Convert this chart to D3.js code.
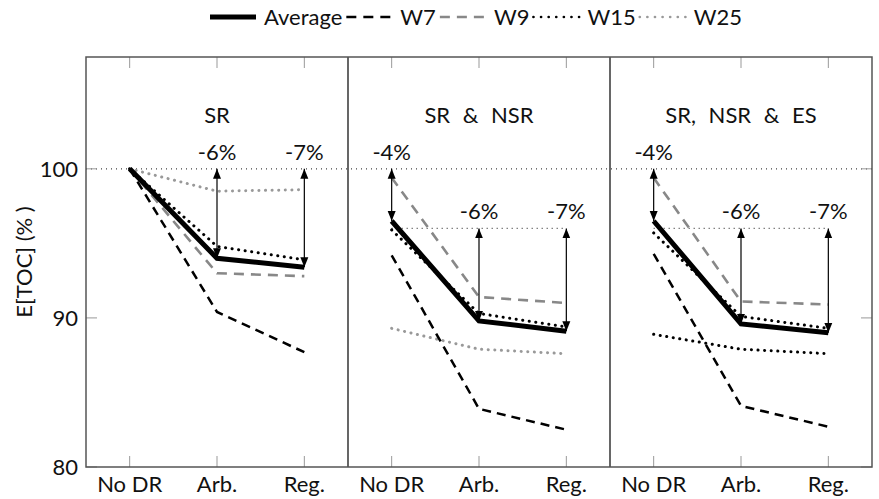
<!DOCTYPE html>
<html>
<head>
<meta charset="utf-8">
<script src="https://cdn.jsdelivr.net/npm/d3@7"></script>
<style>
  body { margin: 0; background: #fff; }
  svg text { font-family: Lato, "DejaVu Sans", sans-serif; fill: #111; }
</style>
</head>
<body>
<svg id="chart"></svg>
<script>
// categories and panels
const categories = ['No DR', 'Arb.', 'Reg.'];
const panelTitles = ['SR', 'SR & NSR', 'SR, NSR & ES'];
const seriesNames = ['Average', 'W7', 'W9', 'W15', 'W25'];

// E[TOC] (%) per panel, in category order
const average = [[100, 94.0, 93.4], [96.5, 89.8, 89.1], [96.5, 89.6, 89.0]];
const w7 = [[100, 90.4, 87.7], [94.2, 83.9, 82.5], [94.3, 84.1, 82.7]];
const w9 = [[100, 93.0, 92.8], [99.4, 91.4, 91.0], [99.4, 91.1, 90.9]];
const w15 = [[100, 94.8, 93.9], [95.9, 90.3, 89.4], [95.7, 90.1, 89.3]];
const w25 = [[100, 98.5, 98.6], [89.3, 87.9, 87.6], [88.9, 87.9, 87.6]];

// drop annotations: label and the level the arrow starts from
const dropLabels = [[null, '-6%', '-7%'], ['-4%', '-6%', '-7%'], ['-4%', '-6%', '-7%']];
const dropFrom = [[null, 100, 100], [100, 96, 96], [100, 96, 96]];

const yTicks = [80, 90, 100];
const yDomain = [80, 107.5];

const width = 879;
const height = 499;
const marginLeft = 86;
const marginRight = 7;
const marginTop = 57;
const marginBottom = 32;
const tickLen = 11;
const fontSize = 22;

const styles = {
  Average: { color: '#000', width: 5, dash: null, dot: false },
  W7: { color: '#000', width: 2.5, dash: '9,6', dot: false },
  W9: { color: '#888', width: 2.6, dash: '10,7', dot: false },
  W15: { color: '#000', width: 3, dash: '0.1,6.5', dot: true },
  W25: { color: '#999', width: 3, dash: '0.1,6.5', dot: true }
};

const seriesData = { Average: average, W7: w7, W9: w9, W15: w15, W25: w25 };

const $svg = d3.select('#chart').attr('width', width).attr('height', height);

const plotW = width - marginLeft - marginRight;
const plotH = height - marginTop - marginBottom;
const panelW = plotW / panelTitles.length;

const scaleY = d3.scaleLinear().domain(yDomain).range([marginTop + plotH, marginTop]);
const scalePanel = d3.scaleBand().domain(d3.range(panelTitles.length)).range([marginLeft, marginLeft + plotW]);
const scaleX = d3.scaleBand().domain(categories).range([0, panelW]);
const cx = c => scaleX(c) + scaleX.bandwidth() / 2;

const defs = $svg.append('defs');
['start', 'end'].forEach(k => {
  defs.append('marker')
    .attr('id', 'arrow-' + k)
    .attr('viewBox', '0 0 10 10')
    .attr('refX', 10).attr('refY', 5)
    .attr('markerWidth', 10).attr('markerHeight', 10)
    .attr('markerUnits', 'userSpaceOnUse')
    .attr('orient', k === 'start' ? 'auto-start-reverse' : 'auto')
    .append('path')
    .attr('d', 'M0,1 L10,5 L0,9 Z')
    .attr('fill', '#000');
});

// reference line at 100, whole width
$svg.append('line')
  .attr('x1', marginLeft).attr('x2', marginLeft + plotW)
  .attr('y1', scaleY(100)).attr('y2', scaleY(100))
  .attr('stroke', '#444').attr('stroke-width', 1.2)
  .attr('stroke-dasharray', '1,4');

const line = d3.line()
  .x((d, i) => cx(categories[i]))
  .y(d => scaleY(d));

panelTitles.forEach((title, p) => {
  const $g = $svg.append('g').attr('transform', `translate(${scalePanel(p)},0)`);

  // secondary reference lines
  const levels = Array.from(new Set(dropFrom[p].filter(v => v !== null && v !== 100)));
  levels.forEach(v => {
    $g.append('line')
      .attr('x1', cx(categories[0])).attr('x2', cx(categories[2]))
      .attr('y1', scaleY(v)).attr('y2', scaleY(v))
      .attr('stroke', '#444').attr('stroke-width', 1.2)
      .attr('stroke-dasharray', '1,4');
  });

  // series, drawn light to heavy
  ['W25', 'W15', 'W9', 'W7', 'Average'].forEach(name => {
    const s = styles[name];
    // in the third panel the W25 curve is printed black in the original
    const color = (name === 'W25' && p === 2) ? '#000' : s.color;
    $g.append('path')
      .datum(seriesData[name][p])
      .attr('d', line)
      .attr('fill', 'none')
      .attr('stroke', color)
      .attr('stroke-width', s.width)
      .attr('stroke-linecap', s.dot ? 'round' : 'butt')
      .attr('stroke-linejoin', 'miter')
      .attr('stroke-dasharray', s.dash);
  });

  // drop arrows and labels
  categories.forEach((c, i) => {
    const lab = dropLabels[p][i];
    if (!lab) return;
    const from = dropFrom[p][i];
    const to = average[p][i];
    $g.append('line')
      .attr('x1', cx(c)).attr('x2', cx(c))
      .attr('y1', scaleY(from)).attr('y2', scaleY(to))
      .attr('stroke', '#000').attr('stroke-width', 1.2)
      .attr('marker-start', 'url(#arrow-start)')
      .attr('marker-end', 'url(#arrow-end)');
    $g.append('text')
      .attr('x', cx(c)).attr('y', scaleY(from) - 9)
      .attr('text-anchor', 'middle')
      .style('font-size', fontSize)
      .text(lab);
  });

  // panel title
  $g.append('text')
    .attr('x', panelW / 2).attr('y', scaleY(103.1))
    .attr('text-anchor', 'middle')
    .style('font-size', fontSize)
    .style('word-spacing', '7px')
    .text(title);

  // x ticks at top and bottom
  categories.forEach(c => {
    $g.append('line')
      .attr('x1', cx(c)).attr('x2', cx(c))
      .attr('y1', marginTop + plotH).attr('y2', marginTop + plotH - tickLen)
      .attr('stroke', '#999').attr('stroke-width', 1);
    $g.append('line')
      .attr('x1', cx(c)).attr('x2', cx(c))
      .attr('y1', marginTop).attr('y2', marginTop + tickLen)
      .attr('stroke', '#999').attr('stroke-width', 1);
    $g.append('text')
      .attr('x', cx(c)).attr('y', marginTop + plotH + 25)
      .attr('text-anchor', 'middle')
      .style('font-size', fontSize)
      .text(c);
  });

  // panel divider
  if (p > 0) {
    $g.append('line')
      .attr('x1', 0).attr('x2', 0)
      .attr('y1', marginTop).attr('y2', marginTop + plotH)
      .attr('stroke', '#000').attr('stroke-width', 1.2);
  }
});

// y ticks, left and right
yTicks.forEach(t => {
  $svg.append('line')
    .attr('x1', marginLeft).attr('x2', marginLeft + tickLen)
    .attr('y1', scaleY(t)).attr('y2', scaleY(t))
    .attr('stroke', '#999');
  $svg.append('line')
    .attr('x1', marginLeft + plotW).attr('x2', marginLeft + plotW - tickLen)
    .attr('y1', scaleY(t)).attr('y2', scaleY(t))
    .attr('stroke', '#999');
  $svg.append('text')
    .attr('x', marginLeft - 8).attr('y', scaleY(t))
    .attr('dy', '0.35em')
    .attr('text-anchor', 'end')
    .style('font-size', fontSize)
    .text(t);
});

// frame
$svg.append('rect')
  .attr('x', marginLeft).attr('y', marginTop)
  .attr('width', plotW).attr('height', plotH)
  .attr('fill', 'none')
  .attr('stroke', '#555').attr('stroke-width', 1.5);

// y label
$svg.append('text')
  .attr('transform', `translate(24,${marginTop + plotH / 2}) rotate(-90)`)
  .attr('text-anchor', 'middle')
  .attr('dy', '0.35em')
  .style('font-size', fontSize)
  .text('E[TOC] (% )');

// legend
const $legend = $svg.append('g').attr('class', 'legend');
let lx = 210;
const ly = 17;
seriesNames.forEach(name => {
  const s = styles[name];
  $legend.append('line')
    .attr('x1', lx).attr('x2', lx + 46)
    .attr('y1', ly).attr('y2', ly)
    .attr('stroke', s.color)
    .attr('stroke-width', name === 'Average' ? 5 : (s.dot ? 2.6 : 2.6))
    .attr('stroke-linecap', s.dot ? 'round' : 'butt')
    .attr('stroke-dasharray', s.dot ? '0.1,7.5' : (s.dash ? '10,7' : null));
  const t = $legend.append('text')
    .attr('x', lx + 54).attr('y', ly)
    .attr('dy', '0.35em')
    .style('font-size', fontSize)
    .text(name);
  lx += 54 + t.node().getComputedTextLength() + 4;
});
</script>
</body>
</html>
